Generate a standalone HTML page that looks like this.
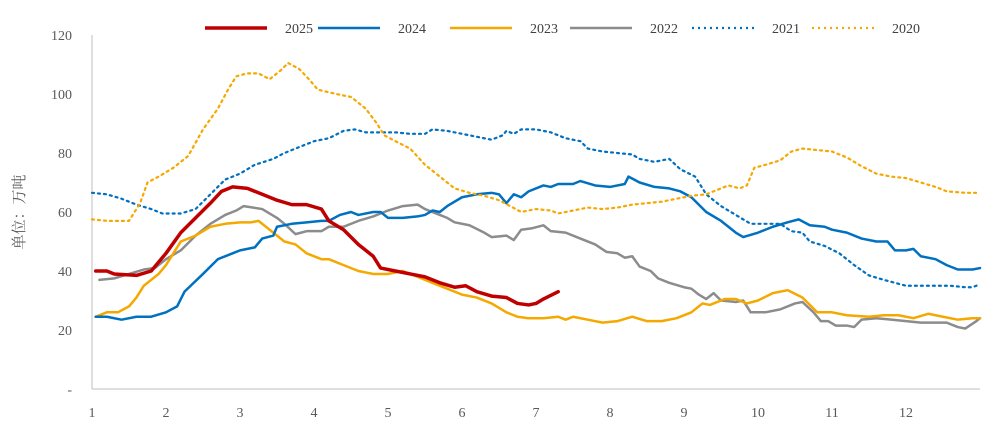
<!DOCTYPE html>
<html><head><meta charset="utf-8"><style>
body{margin:0;background:#fff;}
svg{display:block;font-family:"Liberation Serif","Noto Serif CJK SC",serif;}
</style></head><body>
<svg id="chart" width="994" height="429" viewBox="0 0 994 429"></svg>
<script>
const yTicks=[0,20,40,60,80,100,120];
const yTickLabels=["-","20","40","60","80","100","120"];
const xTicks=[1,2,3,4,5,6,7,8,9,10,11,12];
const seriesNames=["2025","2024","2023","2022","2021","2020"];
const s2025=[[1.05,40],[1.2,40],[1.3,39],[1.6,38.5],[1.8,40],[2.0,46],[2.2,53],[2.4,58],[2.6,63],[2.75,67],[2.9,68.5],[3.1,68],[3.3,66],[3.5,64],[3.7,62.5],[3.9,62.5],[4.1,61],[4.2,57],[4.4,54],[4.6,49],[4.8,45],[4.9,41],[5.1,40],[5.3,39],[5.5,38],[5.7,36],[5.9,34.5],[6.05,35],[6.2,33],[6.4,31.5],[6.6,31],[6.75,29],[6.9,28.5],[7.0,29],[7.1,30.5],[7.3,33]];
const s2024=[[1.05,24.5],[1.2,24.5],[1.4,23.5],[1.6,24.5],[1.8,24.5],[2.0,26],[2.15,28],[2.25,33],[2.5,39],[2.7,44],[2.9,46],[3.0,47],[3.2,48],[3.3,51],[3.45,52],[3.5,55],[3.7,56],[3.9,56.5],[4.1,57],[4.2,57],[4.35,59],[4.5,60],[4.6,59],[4.8,60],[4.9,60],[5.0,58],[5.2,58],[5.4,58.5],[5.5,59],[5.6,60.5],[5.7,60],[5.8,62],[6.0,65],[6.2,66],[6.4,66.5],[6.5,66],[6.6,63],[6.7,66],[6.8,65],[6.9,67],[7.1,69],[7.2,68.5],[7.3,69.5],[7.5,69.5],[7.6,70.5],[7.8,69],[8.0,68.5],[8.2,69.5],[8.25,72],[8.4,70],[8.6,68.5],[8.8,68],[8.95,67],[9.1,65],[9.3,60],[9.5,57],[9.7,53],[9.8,51.5],[10.0,53],[10.2,55],[10.4,56.5],[10.55,57.5],[10.7,55.5],[10.9,55],[11.0,54],[11.2,53],[11.4,51],[11.6,50],[11.75,50],[11.85,47],[12.0,47],[12.1,47.5],[12.2,45],[12.4,44],[12.55,42],[12.7,40.5],[12.9,40.5],[13.0,41]];
const s2023=[[1.05,24.5],[1.2,26],[1.35,26],[1.5,28],[1.6,31],[1.7,35],[1.9,39],[2.0,42],[2.1,46],[2.2,50],[2.4,52],[2.6,55],[2.8,56],[3.0,56.5],[3.15,56.5],[3.25,57],[3.4,54],[3.6,50],[3.75,49],[3.9,46],[4.1,44],[4.2,44],[4.4,42],[4.6,40],[4.8,39],[5.0,39],[5.2,40],[5.4,38],[5.6,36],[5.8,34],[6.0,32],[6.2,31],[6.4,29],[6.6,26],[6.75,24.5],[6.9,24],[7.1,24],[7.3,24.5],[7.4,23.5],[7.5,24.5],[7.7,23.5],[7.9,22.5],[8.1,23],[8.3,24.5],[8.5,23],[8.7,23],[8.9,24],[9.1,26],[9.25,29],[9.35,28.5],[9.55,30.5],[9.7,30.5],[9.85,29],[10.0,30],[10.2,32.5],[10.4,33.5],[10.6,31],[10.8,26],[11.0,26],[11.2,25],[11.5,24.5],[11.7,25],[11.9,25],[12.1,24],[12.3,25.5],[12.5,24.5],[12.7,23.5],[12.9,24],[13.0,24]];
const s2022=[[1.1,37],[1.3,37.5],[1.5,39],[1.7,40.5],[1.85,41],[2.0,44],[2.2,47],[2.4,52],[2.6,56],[2.8,59],[2.95,60.5],[3.05,62],[3.3,61],[3.5,58],[3.6,56],[3.75,52.5],[3.9,53.5],[4.1,53.5],[4.2,55],[4.4,55],[4.6,57],[4.8,58.5],[5.0,60.5],[5.2,62],[5.4,62.5],[5.5,61],[5.7,59],[5.8,58],[5.9,56.5],[6.1,55.5],[6.3,53],[6.4,51.5],[6.6,52],[6.7,50.5],[6.8,54],[6.95,54.5],[7.1,55.5],[7.2,53.5],[7.4,53],[7.6,51],[7.8,49],[7.95,46.5],[8.1,46],[8.2,44.5],[8.3,45],[8.4,41.5],[8.55,40],[8.65,37.5],[8.8,36],[9.0,34.5],[9.1,34],[9.2,32],[9.3,30.5],[9.4,32.5],[9.5,30],[9.7,29.5],[9.8,30],[9.9,26],[10.1,26],[10.3,27],[10.5,29],[10.6,29.5],[10.75,26],[10.85,23],[10.95,23],[11.05,21.5],[11.2,21.5],[11.3,21],[11.4,23.5],[11.6,24],[11.8,23.5],[12.0,23],[12.2,22.5],[12.4,22.5],[12.55,22.5],[12.7,21],[12.8,20.5],[12.95,23],[13.0,24]];
const s2021=[[1.0,66.5],[1.2,66],[1.4,64.5],[1.6,62.5],[1.8,61],[1.95,59.5],[2.2,59.5],[2.4,61],[2.6,66],[2.8,71],[3.0,73],[3.2,76],[3.45,78],[3.6,80],[3.8,82],[4.0,84],[4.2,85],[4.4,87.5],[4.55,88],[4.7,87],[4.9,87],[5.1,87],[5.3,86.5],[5.5,86.5],[5.6,88],[5.8,87.5],[6.0,86.5],[6.2,85.5],[6.4,84.5],[6.55,86],[6.6,87.5],[6.7,86.5],[6.8,88],[7.0,88],[7.2,87],[7.4,85],[7.6,84],[7.7,81.5],[7.9,80.5],[8.1,80],[8.3,79.5],[8.4,78],[8.6,77],[8.8,78],[8.95,74.5],[9.15,72],[9.3,66],[9.5,62],[9.7,59],[9.9,56],[10.1,56],[10.3,56],[10.45,53.5],[10.6,53],[10.7,50],[10.9,48.5],[11.1,46],[11.3,42],[11.5,38.5],[11.7,37],[11.85,36],[12.0,35],[12.2,35],[12.4,35],[12.6,35],[12.8,34.5],[12.9,34.5],[13.0,35.5]];
const s2020=[[1.0,57.5],[1.2,57],[1.4,57],[1.5,57],[1.65,63],[1.75,70],[1.9,72],[2.1,75],[2.3,79],[2.5,88],[2.7,95],[2.85,102],[2.95,106],[3.1,107],[3.25,107],[3.4,105],[3.55,108],[3.65,110.5],[3.8,108.5],[3.95,104.5],[4.05,101.5],[4.3,100],[4.5,99],[4.7,95],[4.85,90],[4.95,86],[5.1,84],[5.3,81.5],[5.5,76],[5.7,72],[5.9,68],[6.1,66.5],[6.3,65.5],[6.5,64],[6.65,62],[6.8,60],[7.0,61],[7.2,60.5],[7.3,59.5],[7.5,60.5],[7.7,61.5],[7.9,61],[8.1,61.5],[8.3,62.5],[8.5,63],[8.7,63.5],[8.9,64.5],[9.1,65.5],[9.3,66],[9.5,68],[9.6,69],[9.75,68],[9.85,69],[9.95,75],[10.1,76],[10.3,77.5],[10.45,80.5],[10.6,81.5],[10.8,81],[11.0,80.5],[11.2,78.5],[11.4,75.5],[11.6,73],[11.8,72],[12.0,71.5],[12.2,70],[12.4,68.5],[12.55,67],[12.8,66.5],[13.0,66.5]];

const NS="http://www.w3.org/2000/svg";
const svg=document.getElementById('chart');
const X0=92,X1=980,Y0=389,Y1=35;
const xs=m=>X0+(m-1)*(X1-X0)/12;
const ys=v=>Y0-v*(Y0-Y1)/120;
function mk(tag,attrs,parent){const e=document.createElementNS(NS,tag);for(const k in attrs)e.setAttribute(k,attrs[k]);(parent||svg).appendChild(e);return e;}

const axisY=mk('line',{x1:X0,y1:Y1,x2:X0,y2:Y0,stroke:'#bfbfbf','stroke-width':1});


const axisX=mk('line',{x1:X0,y1:Y0,x2:X1,y2:Y0,stroke:'#bfbfbf','stroke-width':1});



yTicks.forEach((v,i)=>{
  const t=mk('text',{x:72,y:ys(v)+5,'text-anchor':'end','font-size':14,fill:'#595959'});
  t.textContent=yTickLabels[i];
  
  
});
xTicks.forEach(m=>{
  const t=mk('text',{x:xs(m),y:417,'text-anchor':'middle','font-size':14,fill:'#595959'});
  t.textContent=String(m);
  
  
});
const yt=mk('text',{x:0,y:0,transform:'translate(24,212) rotate(-90)','text-anchor':'middle','font-size':15,fill:'#595959'});
yt.textContent='单位：万吨';



const allSeries=[s2022,s2023,s2024,s2021,s2020,s2025];
const order=["2022","2023","2024","2021","2020","2025"];
const styles={"2025":{c:'#C00000',w:3.5,d:''},"2024":{c:'#0070C0',w:2.5,d:''},"2023":{c:'#F5A800',w:2.5,d:''},"2022":{c:'#8C8C8C',w:2.5,d:''},"2021":{c:'#0070C0',w:2.2,d:'2 4'},"2020":{c:'#F5A800',w:2.2,d:'2 4'}};
allSeries.forEach((s,i)=>{
  const st=styles[order[i]];
  const p=mk('polyline',{points:s.map(d=>xs(d[0])+','+ys(d[1])).join(' '),fill:'none',stroke:st.c,'stroke-width':st.w,'stroke-dasharray':st.d,'stroke-linejoin':'round','stroke-linecap':'round'});
  
  
});

const legX=[205,318,450,570,692,812];
seriesNames.forEach((n,i)=>{
  const st=styles[n];
  const g=mk('g',{});
  
  
  mk('line',{x1:legX[i],y1:28,x2:legX[i]+62,y2:28,stroke:st.c,'stroke-width':st.w,'stroke-dasharray':st.d},g);
  const t=mk('text',{x:legX[i]+80,y:33,'font-size':14,fill:'#404040'},g);
  t.textContent=n;
});
</script>
</body></html>
